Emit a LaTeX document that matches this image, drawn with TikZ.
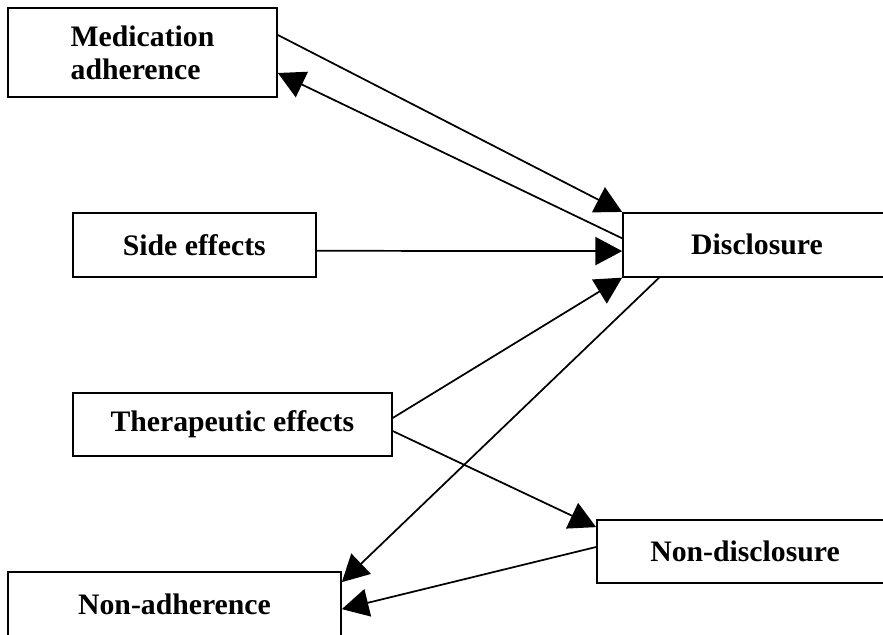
\documentclass[tikz,border=0pt]{standalone}
\usepackage{fontspec}
\setmainfont{Liberation Serif}
\usetikzlibrary{arrows.meta,calc}
\newcommand{\px}{0.75pt}
\tikzset{box/.style={draw, line width=1.3pt, inner sep=0pt, font=\fontsize{22.3}{24.75}\selectfont\bfseries},
  arr/.style={-{Triangle[length=20pt,width=21pt]}, line width=1.3pt}}

\begin{document}
\begin{tikzpicture}[x=\px,y=-\px]
\clip (0,0) rectangle (883,635);
  \node[box, minimum width=269*\px, minimum height=89*\px, align=left] (med) at (142.5,52.5) {Medication\\adherence};
  \node[box, minimum width=243*\px, minimum height=64*\px] (side) at (194.3,245.3) {Side effects};
  \node[box, minimum width=319*\px, minimum height=63*\px] (ther) at (232.3,424.5) {Therapeutic effects};
  \node[box, minimum width=268*\px, minimum height=64*\px] (disc) at (757,244.8) {Disclosure};
  \node[box, minimum width=296*\px, minimum height=63*\px] (nondisc) at (745,551.5) {Non-disclosure};
  \node[box, minimum width=333*\px, minimum height=64*\px] (nonadh) at (174.5,604) {Non-adherence};
  % to and from disclosure
  \draw[arr] ($(med.east)+(0,-17.5)$) -- (disc.north west);
  \draw[arr] ($(disc.west)+(0,-6.5)$) -- ($(med.east)+(0,20.5)$);
  \draw[arr] ($(side.east)+(0,5.5)$) -- ($(disc.west)+(0,6.3)$);
  \draw[arr] ($(ther.east)+(0,-6.5)$) -- (disc.south west);
  \draw[arr] ($(ther.east)+(0,6.5)$) -- ($(nondisc.north west)+(0,8)$);
  % non-adherence
  \draw[arr] ($(disc.south west)+(37,0)$) -- ($(nonadh.north east)+(0,11)$);
  \draw[arr] ($(nondisc.west)+(0,-4.5)$) -- ($(nonadh.north east)+(0,38)$);
\end{tikzpicture}
\end{document}
